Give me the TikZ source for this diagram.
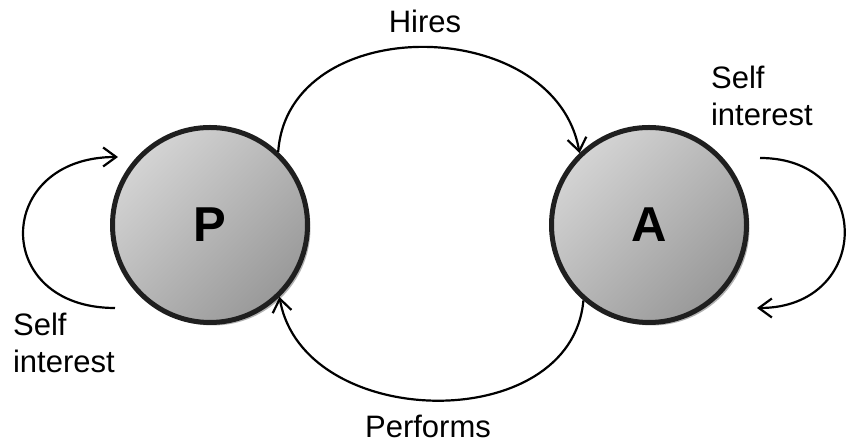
\documentclass[tikz,border=0pt]{standalone}
\usepackage{fontspec}
\setmainfont{Liberation Sans}
\usetikzlibrary{arrows.meta,shadows}

\begin{document}
\begin{tikzpicture}[x=1pt,y=1pt,>={Straight Barb[length=13pt,width=19pt]},
  line width=2.2pt,
  main node/.style={circle,draw=black!88,line width=5pt,minimum size=195pt,
    top color=black!17,bottom color=black!40,shading angle=45,
    drop shadow={shadow xshift=3pt,shadow yshift=-3pt,opacity=.3,fill=black},
    font=\fontsize{49}{50}\selectfont\bfseries},
  lbl/.style={inner sep=0pt,font=\fontsize{31}{37}\selectfont}]
  \useasboundingbox (0,0) rectangle (848,443);

  \node[main node] (P) at (210,218) {P};
  \node[main node] (A) at (649,218) {A};

  \coordinate (Pl1) at (115,135);
  \coordinate (Pl2) at (118,286);
  \coordinate (Al1) at (760,285);
  \coordinate (Al2) at (757,135);

  \path[->]
    (P.47)  edge [out=86,in=100,looseness=1.2] (A.134)
    (A.229) edge [out=-95,in=-80,looseness=1.15] (P.314)
    (Pl1)   edge [out=180,in=180,looseness=2.1] (Pl2)
    (Al1)   edge [out=0,in=0,looseness=1.95] (Al2);

  \node[lbl,anchor=base] (hires) at (425,410) {Hires};
  \node[lbl,anchor=base] (perf) at (428,5) {Performs};
  \node[lbl,anchor=north west,align=left] (selfp) at (12,131) {Self\\interest};
  \node[lbl,anchor=north west,align=left] (selfa) at (710,378) {Self\\interest};
\end{tikzpicture}
\end{document}
